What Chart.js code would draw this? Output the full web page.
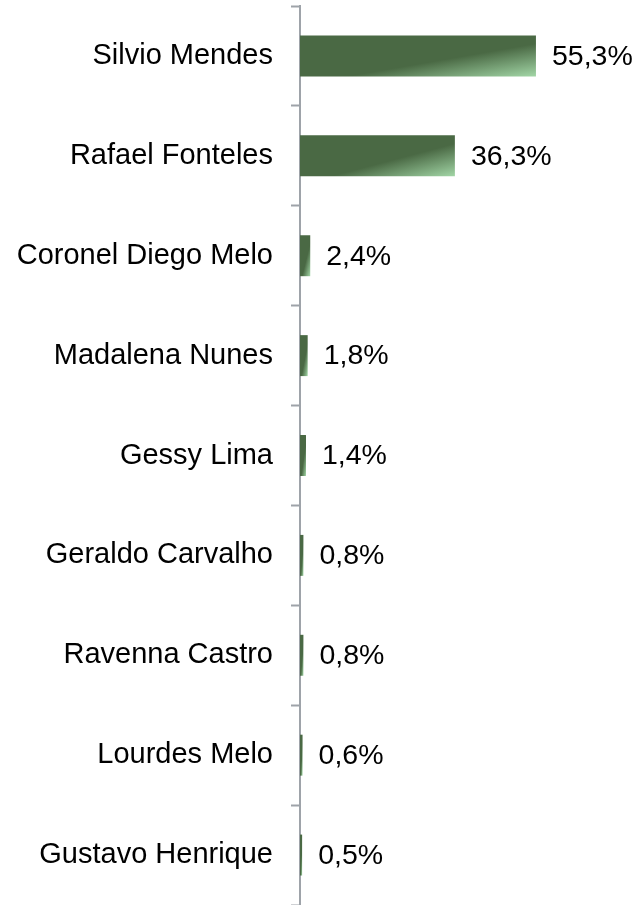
<!DOCTYPE html>
<html>
<head>
<meta charset="utf-8">
<script src="https://cdn.jsdelivr.net/npm/chart.js@4"></script>
<style>
  body { margin: 0; background: #fff; }
  #wrap { width: 637px; height: 905px; position: relative; }
</style>
</head>
<body>
<div id="wrap"><canvas id="barChart"></canvas></div>
<script>
var candidates = ['Silvio Mendes', 'Rafael Fonteles', 'Coronel Diego Melo', 'Madalena Nunes',
  'Gessy Lima', 'Geraldo Carvalho', 'Ravenna Castro', 'Lourdes Melo', 'Gustavo Henrique'];
var votes = [55.3, 36.3, 2.4, 1.8, 1.4, 0.8, 0.8, 0.6, 0.5];

var axisGray = '#9ea3a9';
var darkGreen = '#4a6944';
var lightGreen = '#a2d6a6';
var fontFamily = '"Liberation Sans", Arial, sans-serif';

// diagonal gradient stretched over each bar's own box (top-left dark, bottom-right light)
function barFill(context) {
  var chart = context.chart;
  var xs = chart.scales.x, ys = chart.scales.y;
  if (!xs || !ys || !chart.chartArea) return darkGreen;
  var x0 = xs.getPixelForValue(0);
  var x1 = xs.getPixelForValue(context.raw);
  var h = 41;
  var w = Math.max(x1 - x0, 1);
  var yT = ys.getPixelForValue(context.dataIndex) - h / 2;
  var s = 2 * w * h / (w * w + h * h);
  var g = chart.ctx.createLinearGradient(x0, yT, x0 + s * h, yT + s * w);
  g.addColorStop(0, darkGreen);
  g.addColorStop(0.6, darkGreen);
  g.addColorStop(1, lightGreen);
  return g;
}

var valueLabels = {
  id: 'valueLabels',
  afterDatasetsDraw: function (chart) {
    var ctx = chart.ctx;
    var meta = chart.getDatasetMeta(0);
    ctx.save();
    ctx.font = '28.5px ' + fontFamily;
    ctx.fillStyle = '#000';
    ctx.textAlign = 'left';
    ctx.textBaseline = 'middle';
    meta.data.forEach(function (bar, i) {
      var txt = votes[i].toFixed(1).replace('.', ',') + '%';
      ctx.fillText(txt, bar.x + 16, bar.y + 1);
    });
    ctx.restore();
  }
};

var ctx = document.getElementById('barChart').getContext('2d');
new Chart(ctx, {
  type: 'bar',
  data: {
    labels: candidates,
    datasets: [{
      data: votes,
      backgroundColor: barFill,
      borderWidth: 0,
      barPercentage: 0.41,
      categoryPercentage: 1
    }]
  },
  options: {
    indexAxis: 'y',
    responsive: true,
    maintainAspectRatio: false,
    animation: false,
    layout: { padding: { top: 6, right: 17, bottom: 0, left: 0 } },
    plugins: {
      legend: { display: false },
      tooltip: { enabled: false }
    },
    scales: {
      x: { display: false, min: 0, max: 75 },
      y: {
        afterFit: function (scale) {
          scale.width = 300;
          scale.paddingTop = 0;
          scale.paddingBottom = 0;
        },
        border: { display: true, color: axisGray, width: 2 },
        grid: {
          offset: true,
          drawOnChartArea: false,
          drawTicks: true,
          tickLength: 9,
          tickWidth: 2,
          tickColor: axisGray
        },
        ticks: {
          padding: 18,
          color: '#000',
          font: { family: fontFamily, size: 29 }
        }
      }
    }
  },
  plugins: [valueLabels]
});
</script>
</body>
</html>
